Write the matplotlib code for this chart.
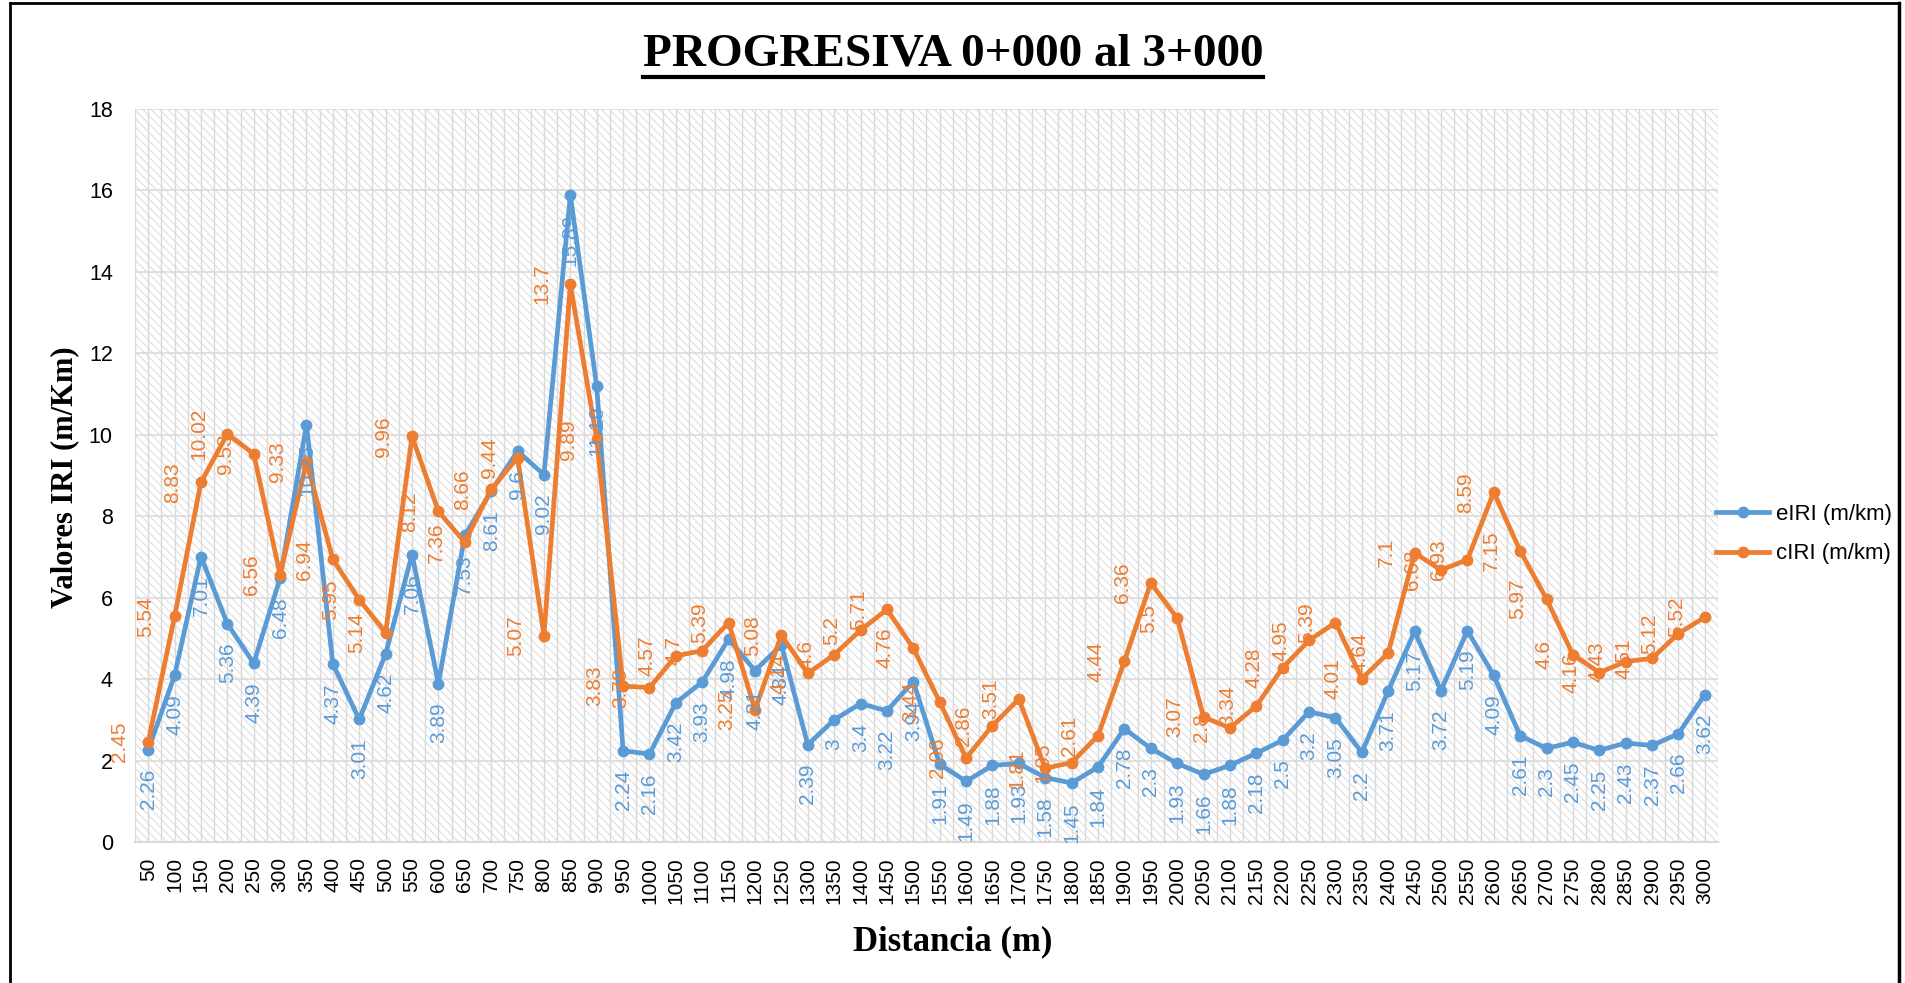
import matplotlib
matplotlib.use('Agg')
import matplotlib.pyplot as plt
from matplotlib.patches import Rectangle
from matplotlib.lines import Line2D

# distances (m) along the road
distancia = [50, 100, 150, 200, 250, 300, 350, 400, 450, 500,
             550, 600, 650, 700, 750, 800, 850, 900, 950, 1000,
             1050, 1100, 1150, 1200, 1250, 1300, 1350, 1400, 1450, 1500,
             1550, 1600, 1650, 1700, 1750, 1800, 1850, 1900, 1950, 2000,
             2050, 2100, 2150, 2200, 2250, 2300, 2350, 2400, 2450, 2500,
             2550, 2600, 2650, 2700, 2750, 2800, 2850, 2900, 2950, 3000]

# eIRI (m/km)
eiri = [2.26, 4.09, 7.01, 5.36, 4.39, 6.48, 10.25, 4.37, 3.01, 4.62,
        7.06, 3.89, 7.53, 8.61, 9.6, 9.02, 15.89, 11.19, 2.24, 2.16,
        3.42, 3.93, 4.98, 4.21, 4.84, 2.39, 3, 3.4, 3.22, 3.94,
        1.91, 1.49, 1.88, 1.93, 1.58, 1.45, 1.84, 2.78, 2.3, 1.93,
        1.66, 1.88, 2.18, 2.5, 3.2, 3.05, 2.2, 3.71, 5.17, 3.72,
        5.19, 4.09, 2.61, 2.3, 2.45, 2.25, 2.43, 2.37, 2.66, 3.62]

# cIRI (m/km)
ciri = [2.45, 5.54, 8.83, 10.02, 9.53, 6.56, 9.33, 6.94, 5.95, 5.14,
        9.96, 8.12, 7.36, 8.66, 9.44, 5.07, 13.7, 9.89, 3.83, 3.79,
        4.57, 4.7, 5.39, 3.25, 5.08, 4.14, 4.6, 5.2, 5.71, 4.76,
        3.44, 2.06, 2.86, 3.51, 1.81, 1.95, 2.61, 4.44, 6.36, 5.5,
        3.07, 2.8, 3.34, 4.28, 4.95, 5.39, 4.01, 4.64, 7.1, 6.68,
        6.93, 8.59, 7.15, 5.97, 4.6, 4.16, 4.43, 4.51, 5.12, 5.52]

y_ticks = [0, 2, 4, 6, 8, 10, 12, 14, 16, 18]

BLUE = '#5B9BD5'
ORANGE = '#ED7D31'
GRID = '#d9d9d9'
W, H = 1906, 983

plt.rcParams['font.family'] = 'Liberation Sans'
plt.rcParams['hatch.linewidth'] = 0.7

fig = plt.figure(figsize=(W / 100, H / 100), dpi=100)
ax = fig.add_axes([135 / W, 1 - 842 / H, (1718 - 135) / W, (842 - 109) / H])

pos = list(range(len(distancia)))
ax.set_xlim(-0.5, len(distancia) - 0.5)
ax.set_ylim(0, 18)

# hatched plot area background
ax.add_patch(Rectangle((0, 0), 1, 1, transform=ax.transAxes, facecolor='white',
                       edgecolor='#dadada', hatch='\\\\\\\\', linewidth=0, zorder=0))

# grid: horizontal every 2, vertical at categories and their boundaries
for yv in y_ticks:
    ax.axhline(yv, color=GRID, lw=1.1, zorder=1)
for k in range(2 * len(distancia) + 1):
    ax.axvline(-0.5 + k * 0.5, color=GRID, lw=1.0, zorder=1)

ax.plot(pos, eiri, color=BLUE, lw=3.4, marker='o', ms=7.5, label='eIRI (m/km)', zorder=3)
ax.plot(pos, ciri, color=ORANGE, lw=3.4, marker='o', ms=7.5, label='cIRI (m/km)', zorder=4)

# data labels: eIRI below, cIRI to the left
for i in pos:
    ax.annotate(f'{eiri[i]:g}', xy=(i, eiri[i]), xytext=(0, -19), textcoords='offset pixels',
                rotation=90, ha='center', va='top', color=BLUE, fontsize=15, zorder=5)
    ax.annotate(f'{ciri[i]:g}', xy=(i, ciri[i]), xytext=(-19, 0), textcoords='offset pixels',
                rotation=90, ha='right', va='center', color=ORANGE, fontsize=15, zorder=5)

ax.set_xticks(pos)
ax.set_xticklabels([str(d) for d in distancia], rotation=90, fontsize=15)
ax.set_yticks(y_ticks)
ax.set_yticklabels([str(v) for v in y_ticks], fontsize=15.5)
ax.tick_params(axis='x', length=0, pad=11)
ax.tick_params(axis='y', length=0, pad=16)
for side in ['top', 'right', 'left']:
    ax.spines[side].set_visible(False)
ax.spines['bottom'].set_color(GRID)
ax.spines['bottom'].set_linewidth(1.5)

fig.legend(loc='center left', bbox_to_anchor=(1716 / W, 1 - 534 / H), frameon=False,
           fontsize=16, handlelength=2.4, handletextpad=0.3, labelspacing=0.85,
           borderpad=0, borderaxespad=0)

title = fig.text(0.5, 1 - 55 / H, 'PROGRESIVA 0+000 al 3+000', ha='center', va='center',
                 family='Liberation Serif', fontweight='bold', fontsize=34)
fig.text(65 / W, 1 - 477 / H, 'Valores IRI (m/Km)', rotation=90, ha='center', va='center',
         family='Liberation Serif', fontweight='bold', fontsize=22)
fig.text(0.5, 1 - 942 / H, 'Distancia (m)', ha='center', va='center',
         family='Liberation Serif', fontweight='bold', fontsize=25)

# underline the title
fig.canvas.draw()
bb = title.get_window_extent(fig.canvas.get_renderer())
fig.add_artist(Line2D([bb.x0 / W, bb.x1 / W], [1 - 77 / H, 1 - 77 / H],
                      transform=fig.transFigure, color='black', lw=3))

# outer frame
fig.add_artist(Line2D([10 / W, 10 / W], [0, 1 - 3 / H], transform=fig.transFigure, color='black', lw=2))
fig.add_artist(Line2D([1899 / W, 1899 / W], [0, 1 - 3 / H], transform=fig.transFigure, color='black', lw=2.5))
fig.add_artist(Line2D([10 / W, 1899 / W], [1 - 3 / H, 1 - 3 / H], transform=fig.transFigure, color='black', lw=2))

fig.savefig('out.png', dpi=100)
